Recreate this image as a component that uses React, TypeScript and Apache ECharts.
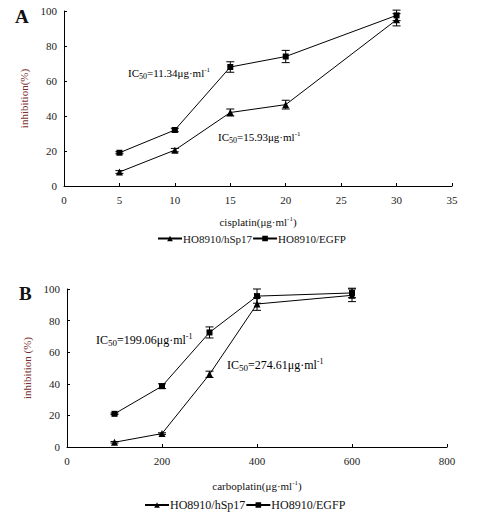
import React, { useEffect, useRef } from "react";
import * as echarts from "echarts";

const cisplatinDose = [5, 10, 15, 20, 30];
const cisHsp17 = [8, 20.5, 42, 46.5, 95];
const cisHsp17Err = [0.8, 1, 2, 2.5, 3.5];
const cisEgfp = [19, 32, 68, 74, 97.5];
const cisEgfpErr = [0.6, 1, 3, 3.5, 3];

const carboDose = [100, 200, 300, 400, 600];
const carHsp17 = [3, 8.5, 46, 90.5, 96];
const carHsp17Err = [0.5, 0.5, 2, 4, 4];
const carEgfp = [21, 38.5, 72.5, 95.5, 97.5];
const carEgfpErr = [0.5, 1.5, 3.5, 4.5, 3];

const seriesNames = ["HO8910/hSp17", "HO8910/EGFP"];
const yTicks = { min: 0, max: 100, interval: 20 };
const xTicksA = { min: 0, max: 35, interval: 5 };
const xTicksB = { min: 0, max: 800, interval: 200 };

const FONT = "Liberation Serif";

function pairs(xs: number[], ys: number[]) {
  return xs.map((x, i) => [x, ys[i]]);
}
function errs(xs: number[], ys: number[], es: number[]) {
  return xs.map((x, i) => [x, ys[i] - es[i], ys[i] + es[i]]);
}

function renderErr(params: any, api: any) {
  const x = api.value(0);
  const lo = api.value(1);
  const hi = api.value(2);
  const p1 = api.coord([x, hi]);
  const p2 = api.coord([x, lo]);
  const w = 4;
  const st = { stroke: "#000", lineWidth: 1 };
  return {
    type: "group",
    children: [
      { type: "line", shape: { x1: p1[0], y1: p1[1], x2: p2[0], y2: p2[1] }, style: st },
      { type: "line", shape: { x1: p1[0] - w, y1: p1[1], x2: p1[0] + w, y2: p1[1] }, style: st },
      { type: "line", shape: { x1: p2[0] - w, y1: p2[1], x2: p2[0] + w, y2: p2[1] }, style: st },
    ],
  };
}

const richBase = (fs: number) => ({
  a: { fontFamily: FONT, fontSize: fs, color: "#111", lineHeight: fs + 3, verticalAlign: "middle" },
  sub: { fontFamily: FONT, fontSize: fs - 3, color: "#111", verticalAlign: "bottom", lineHeight: fs - 3 },
  sup: { fontFamily: FONT, fontSize: fs - 4, color: "#111", verticalAlign: "top", lineHeight: fs - 4 },
});

function icText(value: string) {
  return `{a|IC}{sub|50}{a|=${value}μg·ml}{sup|-1}`;
}

export default function App() {
  const ref = useRef<HTMLDivElement>(null);
  useEffect(() => {
    document.body.style.margin = "0";
    const chart = echarts.init(ref.current!, null, { renderer: "svg" });

    const axisLabel = { fontFamily: FONT, fontSize: 11, color: "#222" };
    const mkX = (idx: number, t: any, name: string, gap: number) => ({
      type: "value",
      gridIndex: idx,
      min: t.min,
      max: t.max,
      interval: t.interval,
      splitLine: { show: false },
      axisLine: { lineStyle: { color: "#000", width: 1 } },
      axisTick: { show: true, inside: true, length: 3, lineStyle: { color: "#000" } },
      axisLabel: { ...axisLabel, margin: 8 },
      name,
      nameLocation: "middle",
      nameGap: gap,
      nameTextStyle: { fontFamily: FONT, fontSize: 11, color: "#111", rich: richBase(11) },
    });
    const mkY = (idx: number, name: string) => ({
      type: "value",
      gridIndex: idx,
      min: yTicks.min,
      max: yTicks.max,
      interval: yTicks.interval,
      splitLine: { show: false },
      axisLine: { show: true, lineStyle: { color: "#000", width: 1 } },
      axisTick: { show: true, inside: true, length: 3, lineStyle: { color: "#000" } },
      axisLabel: { ...axisLabel, margin: 7 },
      name,
      nameLocation: "middle",
      nameGap: 32,
      nameTextStyle: { fontFamily: FONT, fontSize: 11, color: "#7a2f2f" },
    });

    const lineSeries = (name: string, data: number[][], symbol: string, idx: number) => ({
      type: "line",
      name,
      xAxisIndex: idx,
      yAxisIndex: idx,
      data,
      symbol,
      symbolSize: symbol === "triangle" ? 7 : 6,
      lineStyle: { color: "#000", width: 1 },
      itemStyle: { color: "#000" },
      z: 3,
    });
    const errSeries = (data: number[][], idx: number) => ({
      type: "custom",
      xAxisIndex: idx,
      yAxisIndex: idx,
      data,
      renderItem: renderErr,
      z: 2,
      silent: true,
    });

    chart.setOption({
      animation: false,
      backgroundColor: "#fff",
      grid: [
        { left: 64, right: 28, top: 11, height: 175 },
        { left: 67, right: 33, top: 289, height: 158 },
      ],
      xAxis: [
        mkX(0, xTicksA, "{a|cisplatin(μg·ml}{sup|-1}{a|)}", 29),
        mkX(1, xTicksB, "{a|carboplatin(μg·ml}{sup|-1}{a|)}", 32),
      ],
      yAxis: [mkY(0, "inhibition(%)"), mkY(1, "inhibition (%)")],
      legend: [
        {
          data: seriesNames,
          left: 157,
          top: 233,
          padding: 0,
          itemWidth: 24,
          itemHeight: 7,
          itemGap: 0,
          textStyle: { fontFamily: FONT, fontSize: 11, color: "#111", padding: [0, 0, 0, -4] },
        },
        {
          data: seriesNames,
          left: 144,
          top: 499,
          padding: 0,
          itemWidth: 24,
          itemHeight: 7,
          itemGap: 0,
          textStyle: { fontFamily: FONT, fontSize: 12, color: "#111", padding: [0, 0, 0, -4] },
        },
      ],
      series: [
        lineSeries(seriesNames[0], pairs(cisplatinDose, cisHsp17), "triangle", 0),
        lineSeries(seriesNames[1], pairs(cisplatinDose, cisEgfp), "rect", 0),
        errSeries(errs(cisplatinDose, cisHsp17, cisHsp17Err), 0),
        errSeries(errs(cisplatinDose, cisEgfp, cisEgfpErr), 0),
        lineSeries(seriesNames[0], pairs(carboDose, carHsp17), "triangle", 1),
        lineSeries(seriesNames[1], pairs(carboDose, carEgfp), "rect", 1),
        errSeries(errs(carboDose, carHsp17, carHsp17Err), 1),
        errSeries(errs(carboDose, carEgfp, carEgfpErr), 1),
      ],
      graphic: [
        { type: "text", left: 15, top: 7, style: { text: "A", font: `bold 19px ${FONT}`, fill: "#111" } },
        { type: "text", left: 19, top: 284, style: { text: "B", font: `bold 19px ${FONT}`, fill: "#111" } },
        { type: "text", left: 128, top: 66, style: { text: icText("11.34"), rich: richBase(11) } },
        { type: "text", left: 218, top: 130, style: { text: icText("15.93"), rich: richBase(11) } },
        { type: "text", left: 96, top: 332, style: { text: icText("199.06"), rich: richBase(12) } },
        { type: "text", left: 227, top: 357, style: { text: icText("274.61"), rich: richBase(12) } },
      ],
    });
    return () => chart.dispose();
  }, []);
  return <div ref={ref} style={{ width: 480, height: 515 }} />;
}
